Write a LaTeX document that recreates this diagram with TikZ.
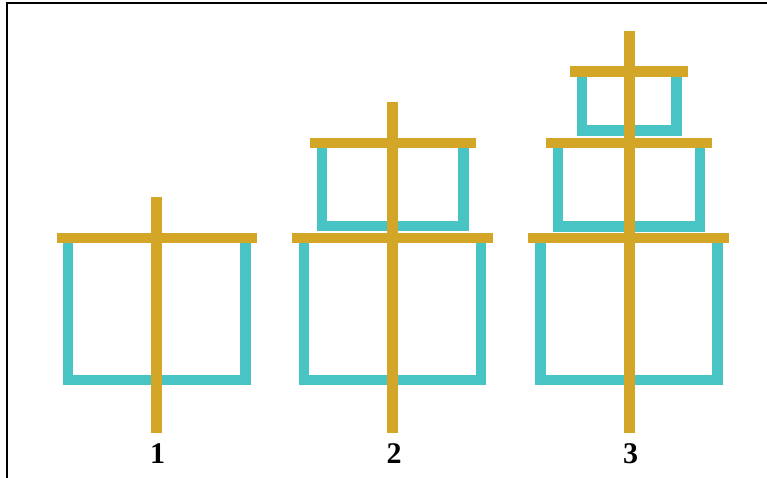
\documentclass[tikz,border=0pt]{standalone}
\usepackage{fontspec}
\setmainfont{Liberation Serif}
\definecolor{tealc}{HTML}{48C4C4}
\definecolor{goldc}{HTML}{D4A628}
\tikzset{
  cup/.style={draw=tealc, line width=10.7pt, line join=miter},
  bar/.style={draw=goldc, line width=10.7pt, line cap=butt},
  frameline/.style={draw=black, line width=2pt, line join=miter},
  lbl/.style={anchor=base, inner sep=0pt, font=\fontsize{30}{30}\selectfont\bfseries}
}
\begin{document}
\begin{tikzpicture}[x=1pt,y=-1pt]
\useasboundingbox (0,0) rectangle (767,477);
\fill[white] (0,0) rectangle (767,477);
\draw[frameline] (7,480) -- (7,3) -- (770,3);
% figure 1
\draw[cup] (68,238) -- (68,380) -- (245.3,380) -- (245.3,238);
\draw[bar] (56.7,238) -- (257,238);
\draw[bar] (156.8,196.7) -- (156.8,433.3);
\node[lbl] (l1) at (157.5,463) {1};
% figure 2
\draw[cup] (322,143) -- (322,226) -- (463.8,226) -- (463.8,143);
\draw[cup] (304,238) -- (304,380) -- (481,380) -- (481,238);
\draw[bar] (310,143) -- (475.7,143);
\draw[bar] (292.3,238) -- (493.3,238);
\draw[bar] (392.8,101.7) -- (392.8,433.3);
\node[lbl] (l2) at (394,463) {2};
% figure 3
\draw[cup] (582,71.3) -- (582,130.5) -- (676.3,130.5) -- (676.3,71.3);
\draw[cup] (558,143) -- (558,226.3) -- (700,226.3) -- (700,143);
\draw[cup] (540.5,238) -- (540.5,380) -- (717.5,380) -- (717.5,238);
\draw[bar] (570,71.3) -- (688.3,71.3);
\draw[bar] (546,143) -- (712,143);
\draw[bar] (528.3,238) -- (729.3,238);
\draw[bar] (629.2,30.7) -- (629.2,433.3);
\node[lbl] (l3) at (630.5,463) {3};
\end{tikzpicture}
\end{document}
